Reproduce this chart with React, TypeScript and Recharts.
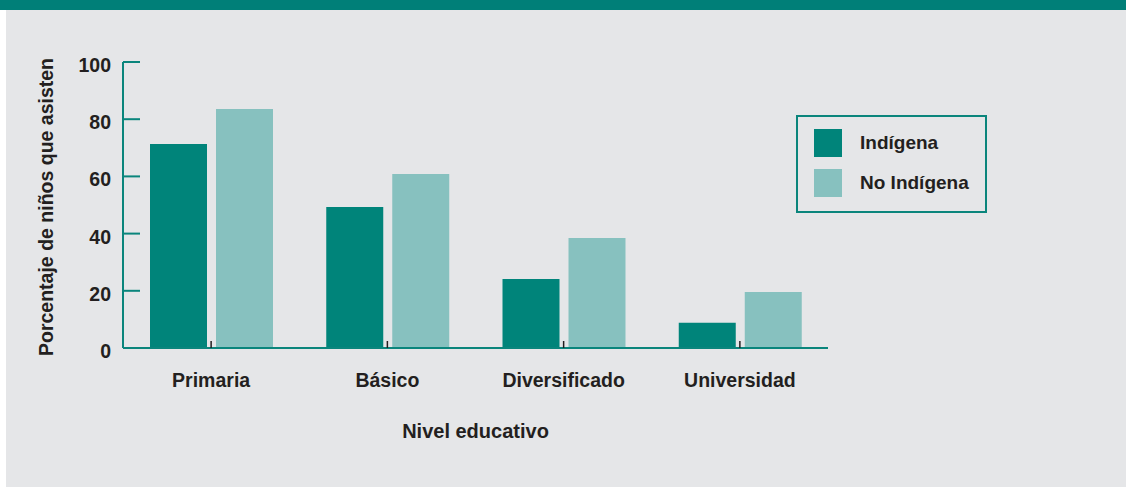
import React from 'react';
import { BarChart, Bar, XAxis, YAxis, Legend } from 'recharts';

// valores (porcentaje de niños que asisten)
const categories = ['Primaria', 'Básico', 'Diversificado', 'Universidad'];
const indigena = [71.3, 49.3, 24.1, 8.8];
const noIndigena = [83.6, 60.8, 38.5, 19.6];
const yTicks = [0, 20, 40, 60, 80, 100];
const seriesNames = ['Indígena', 'No Indígena'];

const data = categories.map((nivel, i) => ({
  nivel,
  indigena: indigena[i],
  noIndigena: noIndigena[i],
}));

const W = 1126;
const H = 487;
const Y_W = 60;
const X_H = 30;
const margin = { top: 62, left: 123 - Y_W, right: 298, bottom: 139 - X_H };
const TEAL = '#00847a';
const LIGHT = '#87c1bf';
const AXIS = '#0a857c';
const TEXT = '#231f20';
const FONT = '"Liberation Sans", Arial, Helvetica, sans-serif';

const XTick = (props: any) => {
  const { x, y, payload } = props;
  return (
    <g>
      <line x1={x} x2={x} y1={y - 7} y2={y} stroke={TEXT} strokeWidth={1.5} />
      <text x={x} y={y + 32} textAnchor="middle" dominantBaseline="central"
        fill={TEXT} fontFamily={FONT} fontSize={19.5} fontWeight="bold">
        {payload.value}
      </text>
    </g>
  );
};

const YTick = (props: any) => {
  const { x, y, payload } = props;
  return (
    <g>
      <line x1={x} x2={x + 17} y1={y} y2={y} stroke={AXIS} strokeWidth={2} />
      <text x={x - 12} y={y + 3} textAnchor="end" dominantBaseline="central"
        fill={TEXT} fontFamily={FONT} fontSize={19.5} fontWeight="bold">
        {payload.value}
      </text>
    </g>
  );
};

const LegendBox = () => (
  <div style={{
    boxSizing: 'border-box', width: 191, height: 98, border: `2px solid ${AXIS}`,
    padding: '12px 0 0 16px', fontFamily: FONT, fontSize: 19, fontWeight: 'bold', color: TEXT,
  }}>
    {seriesNames.map((name, i) => (
      <div key={name} style={{ display: 'flex', alignItems: 'center', height: 28, marginBottom: 12 }}>
        <span style={{ width: 28, height: 28, background: i === 0 ? TEAL : LIGHT, marginRight: 18 }} />
        <span>{name}</span>
      </div>
    ))}
  </div>
);

const plotLeft = margin.left + Y_W;
const plotH = H - margin.top - margin.bottom - X_H;
const plotW = W - plotLeft - margin.right;

export default function App() {
  return (
    <div style={{ position: 'absolute', left: 0, top: 0, width: W, height: H, background: '#ffffff' }}>
      <div style={{ position: 'absolute', left: 0, top: 0, width: W, height: 10, background: '#007f78' }} />
      <div style={{ position: 'absolute', left: 6, top: 10, width: W - 6, height: H - 10, background: '#e5e6e8' }} />
      <div style={{ position: 'absolute', left: 0, top: 0 }}>
        <BarChart width={W} height={H} data={data} margin={margin} barSize={57} barGap={9}>
          <XAxis dataKey="nivel" height={X_H} tickSize={0} tickMargin={0} interval={0}
            axisLine={{ stroke: AXIS, strokeWidth: 2 }} tickLine={false} tick={<XTick />} />
          <YAxis width={Y_W} domain={[0, 100]} ticks={yTicks} tickSize={0} tickMargin={0}
            axisLine={{ stroke: AXIS, strokeWidth: 2 }} tickLine={false} tick={<YTick />} />
          <Legend layout="vertical" align="center" verticalAlign="middle" content={<LegendBox />}
            wrapperStyle={{ left: 796, top: 115, width: 191, height: 98 }} />
          <Bar dataKey="indigena" name={seriesNames[0]} fill={TEAL} isAnimationActive={false} />
          <Bar dataKey="noIndigena" name={seriesNames[1]} fill={LIGHT} isAnimationActive={false} />
          <text x={plotLeft - 77} y={margin.top + plotH / 2 + 2} textAnchor="middle" dominantBaseline="central"
            transform={`rotate(-90 ${plotLeft - 77} ${margin.top + plotH / 2 + 2})`}
            fill={TEXT} fontFamily={FONT} fontSize={19.5} fontWeight="bold">
            Porcentaje de niños que asisten
          </text>
          <text x={plotLeft + plotW / 2} y={margin.top + plotH + 83} textAnchor="middle" dominantBaseline="central"
            fill={TEXT} fontFamily={FONT} fontSize={20} fontWeight="bold">
            Nivel educativo
          </text>
        </BarChart>
      </div>
    </div>
  );
}
